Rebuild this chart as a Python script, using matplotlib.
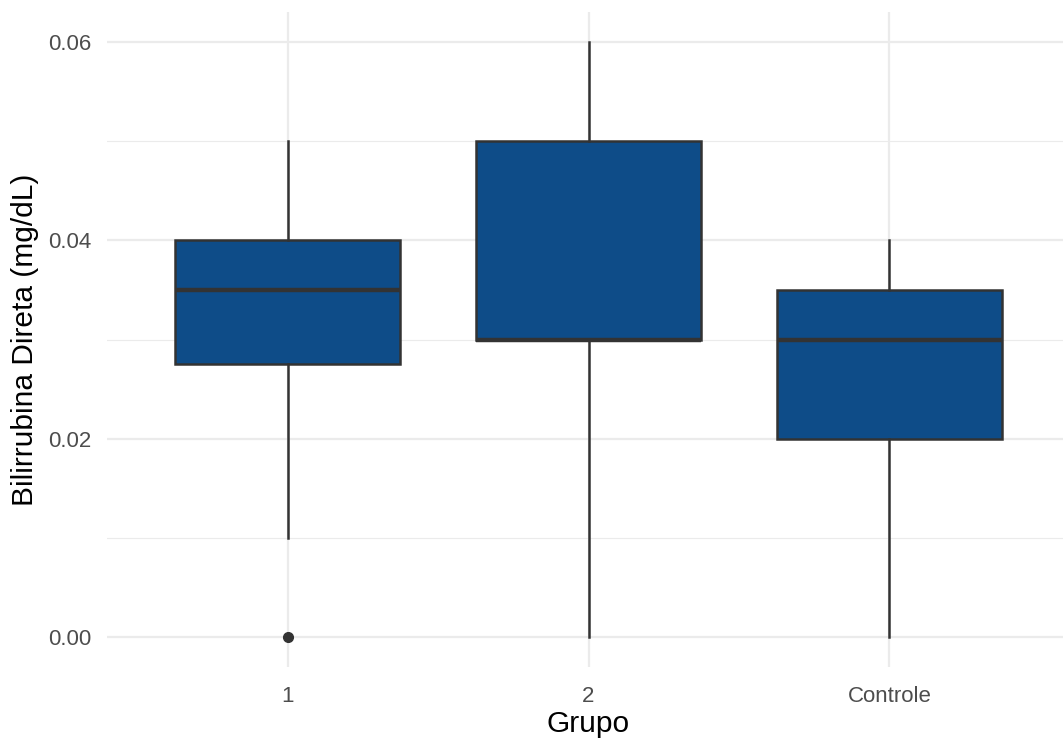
import matplotlib.pyplot as plt

plt.rcParams['font.family'] = ['Liberation Sans', 'DejaVu Sans']

# box statistics
grupos = ['1', '2', 'Controle']
whisker_low = [0.01, 0.0, 0.0]
q1 = [0.0275, 0.03, 0.02]
medianas = [0.035, 0.03, 0.03]
q3 = [0.04, 0.05, 0.035]
whisker_high = [0.05, 0.06, 0.04]
outliers = [[0.0], [], []]

stats = []
for i, g in enumerate(grupos):
    stats.append({'label': g, 'whislo': whisker_low[i], 'q1': q1[i], 'med': medianas[i],
                  'q3': q3[i], 'whishi': whisker_high[i], 'fliers': outliers[i]})

fig = plt.figure(figsize=(10.63, 7.44), dpi=100)
ax = fig.add_axes([107 / 1063, 1 - 667 / 744, 963 / 1063, 655 / 744])

edge = '#333333'
ax.bxp(stats, positions=[1, 2, 3], widths=0.75, patch_artist=True, showcaps=False,
       boxprops=dict(facecolor='#0E4C88', edgecolor=edge, linewidth=1.8),
       medianprops=dict(color=edge, linewidth=3.2, solid_capstyle='butt'),
       whiskerprops=dict(color=edge, linewidth=1.8),
       flierprops=dict(marker='o', markerfacecolor=edge, markeredgecolor=edge, markersize=7),
       zorder=3)

ax.set_xlim(0.4, 3.6)
ax.set_ylim(-0.003, 0.063)
ax.set_yticks([0.0, 0.02, 0.04, 0.06])
ax.set_yticklabels(['0.00', '0.02', '0.04', '0.06'])
ax.set_yticks([0.01, 0.03, 0.05], minor=True)
ax.set_xticks([1, 2, 3])
ax.set_xticklabels(grupos)

ax.grid(which='major', color='#EBEBEB', linewidth=1.6, zorder=0)
ax.grid(which='minor', axis='y', color='#EBEBEB', linewidth=0.8, zorder=0)
ax.set_axisbelow(True)
for s in ax.spines.values():
    s.set_visible(False)
ax.tick_params(which='both', length=0, labelsize=16, labelcolor='#4D4D4D')
ax.tick_params(axis='y', pad=11)
ax.tick_params(axis='x', pad=14)

ax.set_xlabel('Grupo', fontsize=21.5, labelpad=2)
ax.set_ylabel('Bilirrubina Direta (mg/dL)', fontsize=21.5, labelpad=7)

fig.savefig('out.png', dpi=100)
